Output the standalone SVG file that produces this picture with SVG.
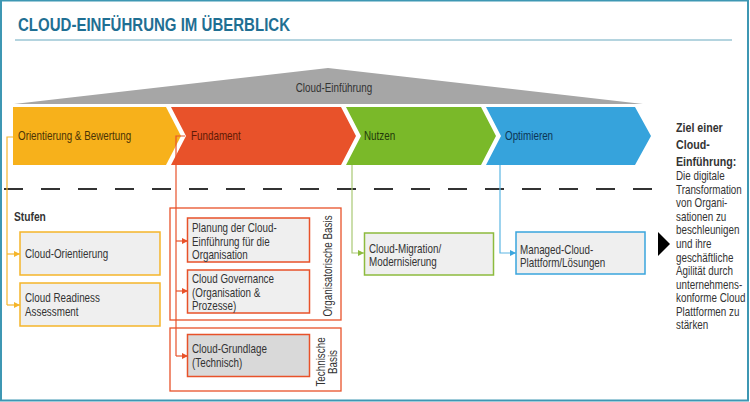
<svg xmlns="http://www.w3.org/2000/svg" width="750" height="402" viewBox="0 0 750 402">
<defs>
<style>
text{font-family:"Liberation Sans",Arial,sans-serif;font-size:12px;fill:#333}
.n{transform-box:fill-box;transform-origin:0 0;transform:scaleX(0.82)}
.m{transform-box:fill-box;transform-origin:50% 50%;transform:scaleX(0.82)}
.title{font-weight:bold;font-size:19px;fill:#1f6f93}
.b{font-weight:bold}
.box{fill:#efefef;stroke-width:1.5}
.grp{fill:none;stroke:#e8522a;stroke-width:1.3}
.c{fill:none;stroke-width:1.2}
</style>
<marker id="ao" viewBox="0 0 6 6" refX="6" refY="3" markerWidth="6" markerHeight="6" orient="auto" markerUnits="userSpaceOnUse"><path d="M0,0 L6,3 L0,6 z" fill="#f5b52a"/></marker>
<marker id="ar" viewBox="0 0 6 6" refX="6" refY="3" markerWidth="6" markerHeight="6" orient="auto" markerUnits="userSpaceOnUse"><path d="M0,0 L6,3 L0,6 z" fill="#e8522a"/></marker>
<marker id="ag" viewBox="0 0 6 6" refX="6" refY="3" markerWidth="6" markerHeight="6" orient="auto" markerUnits="userSpaceOnUse"><path d="M0,0 L6,3 L0,6 z" fill="#8dbb3e"/></marker>
<marker id="ab" viewBox="0 0 6 6" refX="6" refY="3" markerWidth="6" markerHeight="6" orient="auto" markerUnits="userSpaceOnUse"><path d="M0,0 L6,3 L0,6 z" fill="#3aa5dd"/></marker>
</defs>
<rect x="0" y="0" width="750" height="402" fill="#fff"/>
<rect x="1" y="0.5" width="747" height="400" fill="none" stroke="#3d97b3" stroke-width="2"/>
<text class="title" x="18" y="31" textLength="272" lengthAdjust="spacingAndGlyphs">CLOUD-EINFÜHRUNG IM ÜBERBLICK</text>
<line x1="15" y1="40" x2="732" y2="40" stroke="#6aaac0" stroke-width="1.2"/>

<g id="dach">
<polygon points="14,104 328,68 643,104" fill="#a6a6a6"/>
<text class="m" x="334" y="92" text-anchor="middle">Cloud-Einführung</text>
</g>

<g id="orientierung">
<polygon points="13,107 166,107 181,136 166,165 13,165" fill="#f7b11b"/>
<text class="n" x="18" y="140" style="fill:#4a3305">Orientierung &amp; Bewertung</text>
</g>
<g id="fundament">
<polygon points="171,107 341,107 356,136 341,165 171,165 186,136" fill="#e8522a"/>
<text class="n" x="191" y="140" style="fill:#5e1a05">Fundament</text>
</g>
<g id="nutzen">
<polygon points="346,107 481,107 496,136 481,165 346,165 361,136" fill="#7ab929"/>
<text class="n" x="364" y="140" style="fill:#21380a">Nutzen</text>
</g>
<g id="optimieren">
<polygon points="486,107 635,107 651,136 635,165 486,165 501,136" fill="#36a3dc"/>
<text class="n" x="505" y="140" style="fill:#0c3554">Optimieren</text>
</g>

<line x1="4" y1="189" x2="662" y2="189" stroke="#333" stroke-width="2" stroke-dasharray="19,18"/>
<text class="n b" x="14" y="221" style="font-size:12.5px">Stufen</text>

<g id="connectors">
<path class="c" stroke="#f5b52a" d="M13,137 H7 V305"/>
<path class="c" stroke="#f5b52a" d="M7,254 H20" marker-end="url(#ao)"/>
<path class="c" stroke="#f5b52a" d="M7,305 H20" marker-end="url(#ao)"/>
<path class="c" stroke="#e8522a" d="M185,136 H176 V356"/>
<path class="c" stroke="#e8522a" d="M176,241 H188" marker-end="url(#ar)"/>
<path class="c" stroke="#e8522a" d="M176,291 H188" marker-end="url(#ar)"/>
<path class="c" stroke="#e8522a" d="M176,356 H188" marker-end="url(#ar)"/>
<path class="c" stroke="#a9c874" d="M352,165 V253 H364" marker-end="url(#ag)"/>
<path class="c" stroke="#5cb6e3" d="M500,165 V253 H516" marker-end="url(#ab)"/>
</g>

<g id="cloud-orientierung">
<rect class="box" x="20" y="232" width="140" height="43" stroke="#f5b52a"/>
<text class="n" x="25" y="258">Cloud-Orientierung</text>
</g>
<g id="cloud-readiness">
<rect class="box" x="20" y="283" width="140" height="43" stroke="#f5b52a"/>
<text class="n" x="25" y="302">Cloud Readiness</text>
<text class="n" x="25" y="316">Assessment</text>
</g>

<g id="organisatorische-basis">
<rect class="grp" x="170" y="208" width="171" height="112"/>
<text transform="translate(332,266) rotate(-90) scale(0.82,1)" text-anchor="middle">Organisatorische Basis</text>
</g>
<g id="planung">
<rect class="box" x="187.5" y="218" width="122" height="44" stroke="#e8522a"/>
<text class="n" x="192" y="232">Planung der Cloud-</text>
<text class="n" x="192" y="246">Einführung für die</text>
<text class="n" x="192" y="259">Organisation</text>
</g>
<g id="governance">
<rect class="box" x="187.5" y="270" width="122" height="43" stroke="#e8522a"/>
<text class="n" x="192" y="283">Cloud Governance</text>
<text class="n" x="192" y="297">(Organisation &amp;</text>
<text class="n" x="192" y="310">Prozesse)</text>
</g>

<g id="technische-basis">
<rect class="grp" x="170" y="328" width="171" height="63"/>
<text transform="translate(325,362) rotate(-90) scale(0.82,1)" text-anchor="middle">Technische</text>
<text transform="translate(337,362) rotate(-90) scale(0.82,1)" text-anchor="middle">Basis</text>
</g>
<g id="grundlage">
<rect class="box" x="187.5" y="334.5" width="122" height="42" stroke="#e8522a" style="fill:#d9d9d9"/>
<text class="n" x="192" y="353">Cloud-Grundlage</text>
<text class="n" x="192" y="367">(Technisch)</text>
</g>

<g id="migration">
<rect class="box" x="364.5" y="233" width="129" height="42" stroke="#8dbb3e"/>
<text class="n" x="369" y="253">Cloud-Migration/</text>
<text class="n" x="369" y="266">Modernisierung</text>
</g>
<g id="managed">
<rect class="box" x="516" y="232" width="129" height="42" stroke="#3aa5dd"/>
<text class="n" x="520" y="254">Managed-Cloud-</text>
<text class="n" x="520" y="267">Plattform/Lösungen</text>
</g>

<g id="ziel">
<polygon points="658,232 670,244 658,256" fill="#000"/>
<text class="n b" x="676" y="132" style="font-size:13px">Ziel einer</text>
<text class="n b" x="676" y="149" style="font-size:13px">Cloud-</text>
<text class="n b" x="676" y="166" style="font-size:13px">Einführung:</text>
<text class="n" x="676" y="180">Die digitale</text>
<text class="n" x="676" y="194">Transformation</text>
<text class="n" x="676" y="207">von Organi-</text>
<text class="n" x="676" y="221">sationen zu</text>
<text class="n" x="676" y="234">beschleunigen</text>
<text class="n" x="676" y="248">und ihre</text>
<text class="n" x="676" y="262">geschäftliche</text>
<text class="n" x="676" y="275">Agilität durch</text>
<text class="n" x="676" y="289">unternehmens-</text>
<text class="n" x="676" y="302">konforme Cloud</text>
<text class="n" x="676" y="316">Plattformen zu</text>
<text class="n" x="676" y="329">stärken</text>
</g>
</svg>
